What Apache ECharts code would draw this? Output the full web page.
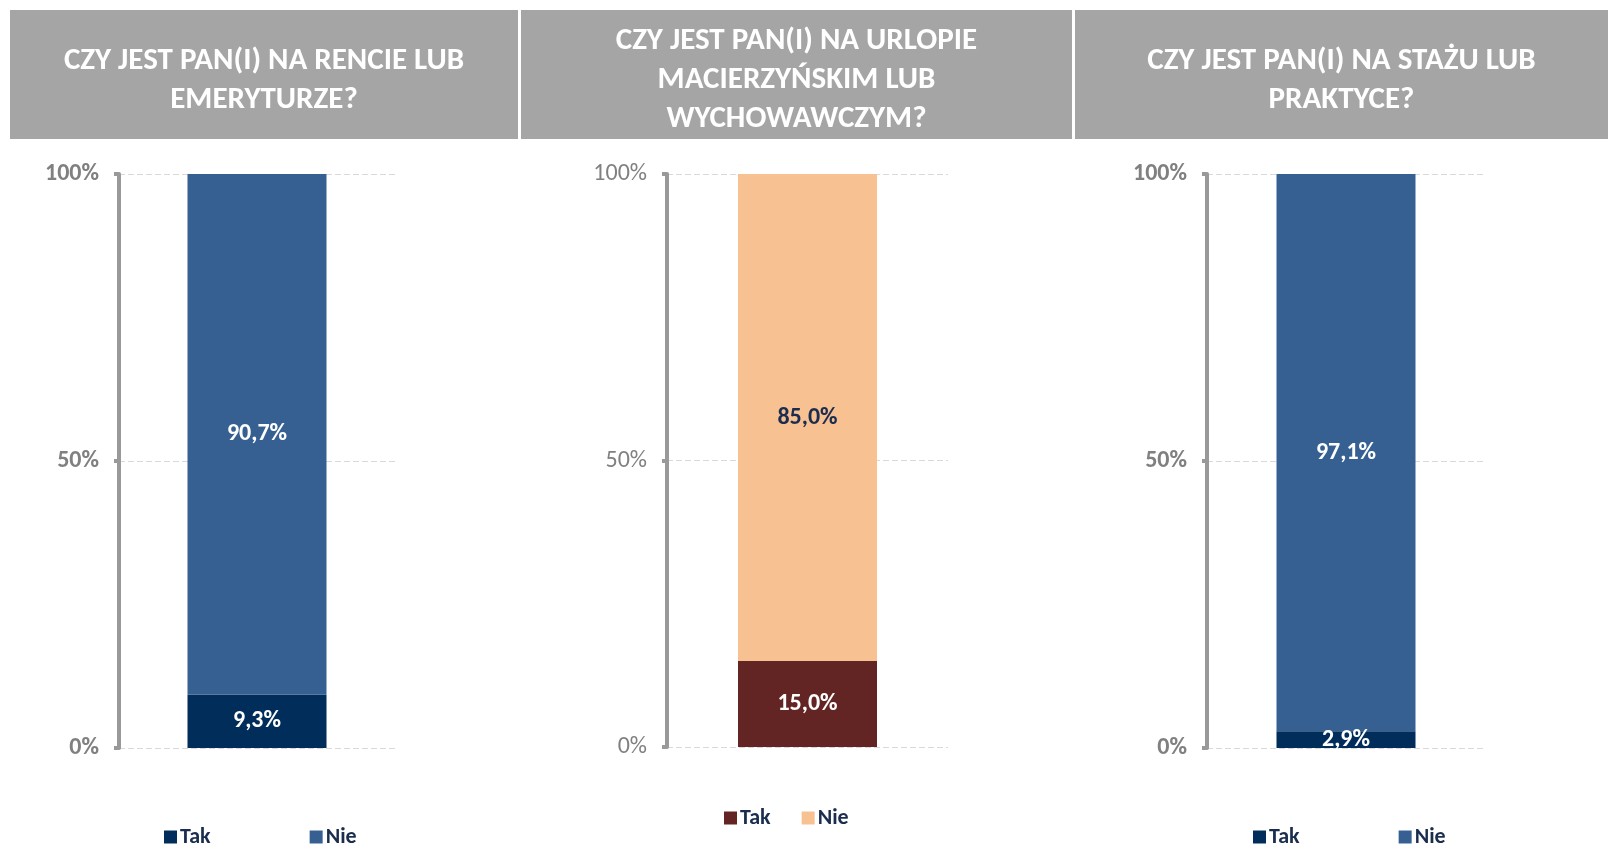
<!DOCTYPE html>
<html>
<head>
<meta charset="utf-8">
<script src="https://cdn.jsdelivr.net/npm/echarts@6/dist/echarts.min.js"></script>
<style>
  html, body { margin: 0; padding: 0; background: #fff; }
  #main { width: 1608px; height: 845px; }
</style>
</head>
<body>
<div id="main"></div>
<script>
// chart data
var titles = [
  "CZY JEST PAN(I) NA RENCIE LUB\nEMERYTURZE?",
  "CZY JEST PAN(I) NA URLOPIE\nMACIERZYŃSKIM LUB\nWYCHOWAWCZYM?",
  "CZY JEST PAN(I) NA STAŻU LUB\nPRAKTYCE?"
];
var answers = ["Tak", "Nie"];
var takValues = [9.3, 15.0, 2.9];
var nieValues = [90.7, 85.0, 97.1];

var FONT = "Carlito, Lato, sans-serif";
var takColors = ["#002d5a", "#632523", "#002d5a"];
var nieColors = ["#366092", "#f8c192", "#366092"];
var nieLabelColors = ["#fff", "#1b2d4f", "#fff"];

// panel layout (pixels)
var panels = [
  { hx: 10, hw: 508, axisX: 119, gridW: 276, top: 174, height: 574, boldAxis: true, titleY: 81, legendTop: 826, legendLeft: 164, gap: 99 },
  { hx: 521, hw: 551, axisX: 667, gridW: 281, top: 174, height: 573, boldAxis: false, titleY: 80, legendTop: 807, legendLeft: 724, gap: 31 },
  { hx: 1075, hw: 533, axisX: 1207, gridW: 278, top: 174, height: 574, boldAxis: true, titleY: 81, legendTop: 826, legendLeft: 1253, gap: 99 }
];

function fmt(v) {
  return v.toFixed(1).replace(".", ",") + "%";
}

var grids = [], xAxes = [], yAxes = [], series = [], legends = [], graphics = [];

panels.forEach(function (p, i) {
  graphics.push({
    type: "rect",
    shape: { x: p.hx, y: 10, width: p.hw, height: 129 },
    style: { fill: "#a5a5a5" }
  });
  graphics.push({
    type: "text",
    x: p.hx + p.hw / 2,
    y: p.titleY,
    style: {
      text: titles[i],
      fill: "#fff",
      font: "bold 31px " + FONT,
      lineHeight: 39,
      align: "center",
      verticalAlign: "middle"
    }
  });

  grids.push({ left: p.axisX, top: p.top, width: p.gridW, height: p.height });
  xAxes.push({
    type: "category",
    gridIndex: i,
    data: [""],
    show: false
  });
  yAxes.push({
    type: "value",
    gridIndex: i,
    min: 0,
    max: 100,
    interval: 50,
    axisLine: { show: true, lineStyle: { color: "#999", width: 4 } },
    axisTick: { show: true, length: 5, lineStyle: { color: "#999", width: 4 } },
    axisLabel: {
      formatter: "{value}%",
      color: "#808080",
      fontSize: 24,
      fontWeight: p.boldAxis ? "bold" : "normal",
      fontFamily: FONT,
      margin: 20
    },
    splitLine: { show: true, lineStyle: { color: "#d9d9d9", type: [6, 3] } }
  });

  series.push({
    name: answers[0],
    type: "bar",
    stack: "s" + i,
    xAxisIndex: i,
    yAxisIndex: i,
    barWidth: 139,
    data: [takValues[i]],
    itemStyle: { color: takColors[i] },
    label: {
      show: true,
      position: "inside",
      color: "#fff",
      fontSize: 24,
      fontWeight: "bold",
      fontFamily: FONT,
      formatter: function (params) { return fmt(params.value); }
    }
  });
  series.push({
    name: answers[1],
    type: "bar",
    stack: "s" + i,
    xAxisIndex: i,
    yAxisIndex: i,
    barWidth: 139,
    data: [nieValues[i]],
    itemStyle: { color: nieColors[i] },
    label: {
      show: true,
      position: "inside",
      color: nieLabelColors[i],
      fontSize: 24,
      fontWeight: "bold",
      fontFamily: FONT,
      formatter: function (params) { return fmt(params.value); }
    }
  });

  legends.push({
    left: p.legendLeft,
    top: p.legendTop,
    padding: 0,
    itemWidth: 13,
    itemHeight: 13,
    itemGap: p.gap,
    selectedMode: false,
    textStyle: { color: "#1b2d4f", fontSize: 22, fontWeight: "bold", fontFamily: FONT, padding: [0, 0, 0, -2] },
    data: [
      { name: answers[0], icon: "rect", itemStyle: { color: takColors[i] } },
      { name: answers[1], icon: "rect", itemStyle: { color: nieColors[i] } }
    ]
  });
});

var myChart = echarts.init(document.getElementById("main"));
myChart.setOption({
  animation: false,
  backgroundColor: "#fff",
  graphic: graphics,
  grid: grids,
  xAxis: xAxes,
  yAxis: yAxes,
  legend: legends,
  series: series
});
</script>
</body>
</html>
